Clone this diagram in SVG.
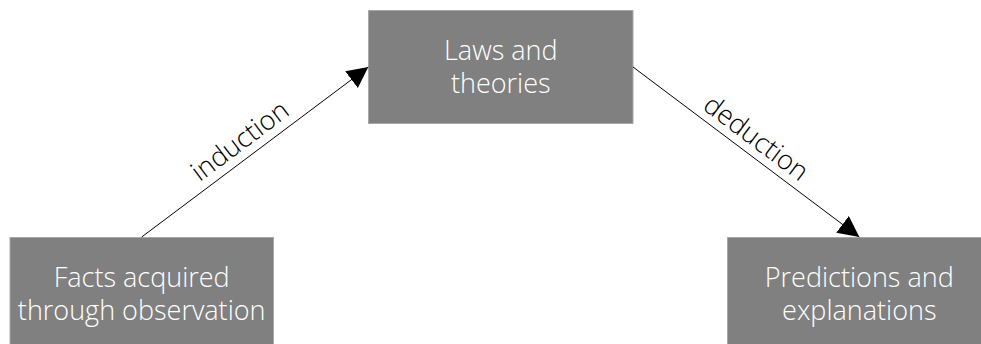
<svg xmlns="http://www.w3.org/2000/svg" width="981" height="344" viewBox="0 0 981 344">
  <style>
    .box { fill: #808080; stroke: #a8a8a8; stroke-width: 1; }
    .label { font-family: "Open Sans", "Liberation Sans", sans-serif; font-weight: 300; font-size: 27px; fill: #ffffff; text-anchor: middle; }
    .edge { stroke: #000000; stroke-width: 1; fill: none; marker-end: url(#head); }
    .edge-label { font-family: "Open Sans", "Liberation Sans", sans-serif; font-weight: 300; font-size: 27px; fill: #000000; text-anchor: middle; }
  </style>
  <defs>
    <marker id="head" markerUnits="userSpaceOnUse" markerWidth="22" markerHeight="22" refX="21" refY="11" orient="auto" viewBox="0 0 22 22">
      <path d="M0,0.5 L21,11 L0,21.5 Z" fill="#000000"/>
    </marker>
  </defs>
  <rect width="981" height="344" fill="#ffffff"/>

  <g id="facts">
    <rect class="box" x="10" y="237.5" width="263.5" height="110"/>
    <text class="label" x="141.7" y="286.7">Facts acquired</text>
    <text class="label" x="141.7" y="320">through observation</text>
  </g>

  <g id="laws">
    <rect class="box" x="368.5" y="10.5" width="264.5" height="113"/>
    <text class="label" x="500.8" y="60">Laws and</text>
    <text class="label" x="500.8" y="93.3">theories</text>
  </g>

  <g id="predictions">
    <rect class="box" x="727.5" y="237.5" width="263.5" height="110"/>
    <text class="label" x="859.3" y="286.7">Predictions and</text>
    <text class="label" x="859.3" y="320">explanations</text>
  </g>

  <g id="connectors">
    <line class="edge" x1="141.7" y1="237" x2="368.3" y2="67"/>
    <text class="edge-label" x="245.4" y="148.2" transform="rotate(-36.87 245.4 148.2)">induction</text>
    <line class="edge" x1="633" y1="67" x2="859.3" y2="237"/>
    <text class="edge-label" x="750.6" y="145.2" transform="rotate(36.87 750.6 145.2)">deduction</text>
  </g>
</svg>
